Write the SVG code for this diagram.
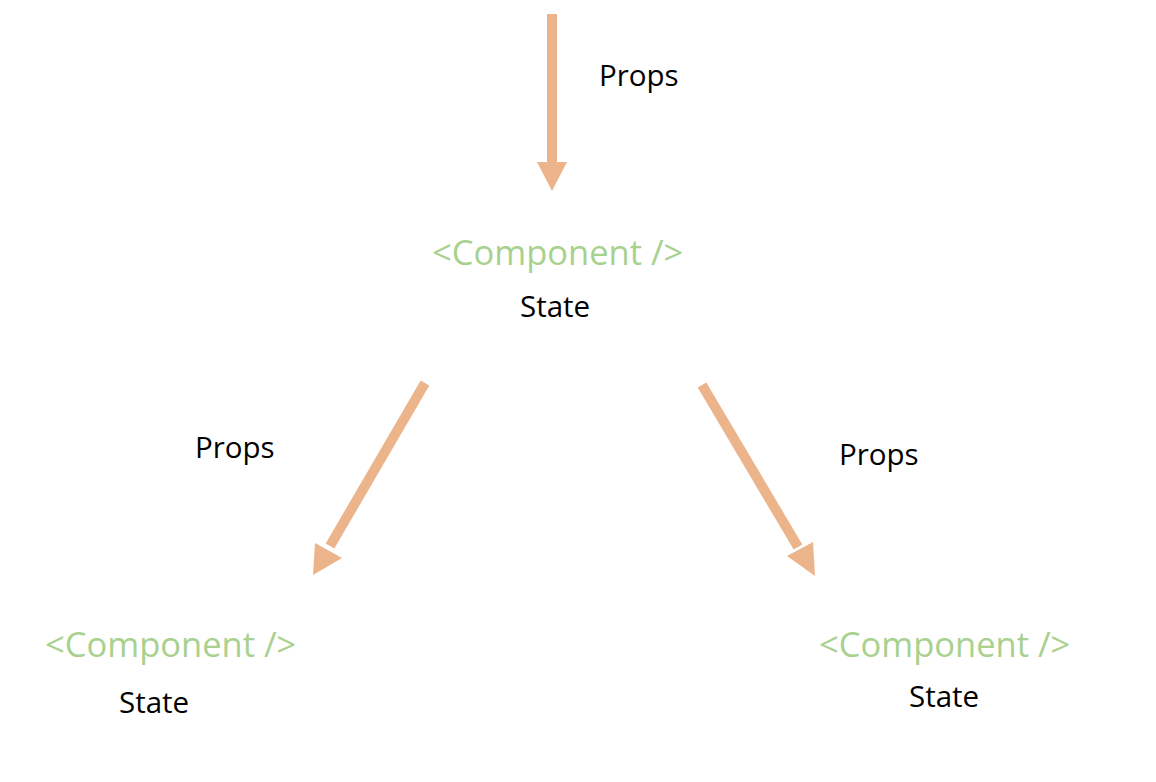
<svg xmlns="http://www.w3.org/2000/svg" width="1156" height="782" viewBox="0 0 1156 782">
<style>
.comp{font-family:"Open Sans","Noto Sans",sans-serif;font-size:34.5px;fill:#A9D18E}
.lbl{font-family:"Open Sans","Noto Sans",sans-serif;font-size:29.5px;fill:#000}
.shaft{stroke:#EBB48A;stroke-width:10;fill:none}
.head{fill:#EBB48A}
</style>
<rect width="1156" height="782" fill="#fff"/>
<g id="connectors">
  <g id="arrow-top">
    <line class="shaft" x1="552" y1="14" x2="552" y2="164"/>
    <polygon class="head" points="537,162 567,162 552,191"/>
  </g>
  <g id="arrow-left">
    <line class="shaft" x1="425" y1="383" x2="330" y2="546"/>
    <polygon class="head" points="315,543 342,558 313,575"/>
  </g>
  <g id="arrow-right">
    <line class="shaft" x1="702" y1="385" x2="798" y2="547"/>
    <polygon class="head" points="787,556 813,542 815,576"/>
  </g>
  <text class="lbl" x="599" y="86">Props</text>
  <text class="lbl" x="195" y="458">Props</text>
  <text class="lbl" x="839" y="465">Props</text>
</g>
<g id="node-top">
  <text class="comp" x="432" y="265">&lt;Component /&gt;</text>
  <text class="lbl" x="520" y="317">State</text>
</g>
<g id="node-left">
  <text class="comp" x="45" y="657">&lt;Component /&gt;</text>
  <text class="lbl" x="119" y="713">State</text>
</g>
<g id="node-right">
  <text class="comp" x="819" y="657">&lt;Component /&gt;</text>
  <text class="lbl" x="909" y="707">State</text>
</g>
</svg>
